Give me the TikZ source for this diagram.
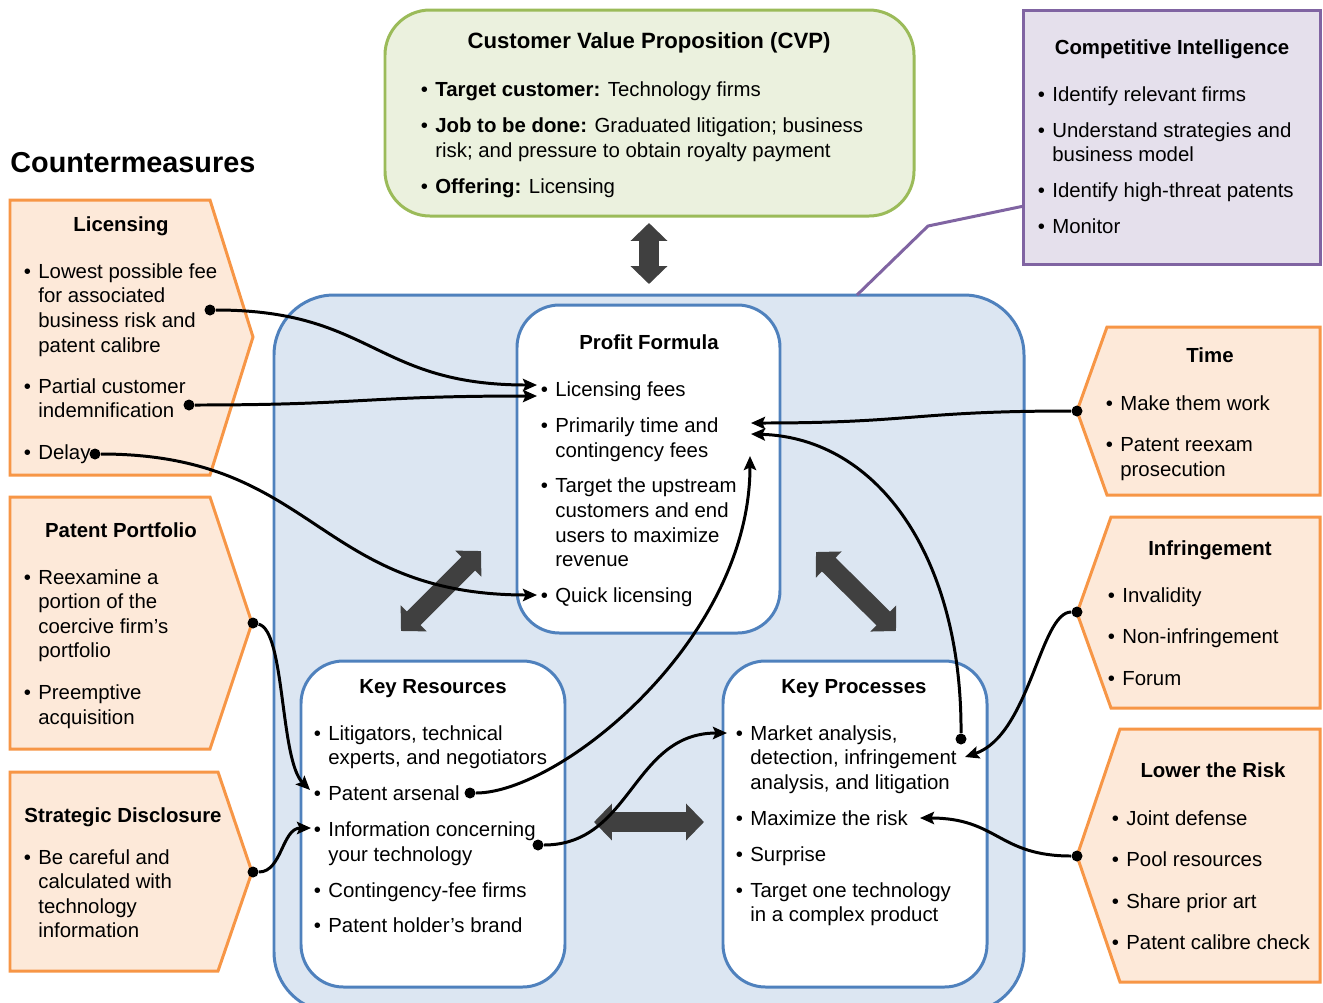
\documentclass[tikz,border=0pt]{standalone}
\usepackage{fontspec}
\setmainfont{Liberation Sans}
\usetikzlibrary{arrows.meta}

\definecolor{orFill}{HTML}{FDE9D9}
\definecolor{orLine}{HTML}{F79646}
\definecolor{blFill}{HTML}{DCE6F2}
\definecolor{blLine}{HTML}{4F81BD}
\definecolor{grFill}{HTML}{EBF1DE}
\definecolor{grLine}{HTML}{9BBB59}
\definecolor{puFill}{HTML}{E5E0EC}
\definecolor{puLine}{HTML}{8064A2}
\definecolor{blockGray}{HTML}{404040}

\newcounter{tx}
% plain text line, bulleted line, centred heading
\newcommand\TL[3]{\stepcounter{tx}\node[txt] (tx\arabic{tx}) at (#1,#2) {#3};}
\newcommand\BL[3]{\stepcounter{tx}\node[txt] (tx\arabic{tx}) at (#1,#2) {\llap{•\hspace{4.2pt}}#3};}
\newcommand\TT[3]{\stepcounter{tx}\node[ttl] (tx\arabic{tx}) at (#1,#2) {#3};}

\tikzset{
  txt/.style={font=\fontsize{11.6}{13.9}\selectfont, inner sep=0pt, anchor=mid west, yshift=-0.06cm},
  ttl/.style={font=\fontsize{11.6}{13.9}\selectfont\bfseries, inner sep=0pt, anchor=mid, yshift=-0.06cm},
  orbox/.style={fill=orFill, draw=orLine, line width=1.7pt, line join=miter},
  blbox/.style={fill=white, draw=blLine, line width=1.7pt, rounded corners=0.85cm},
  dot/.style={circle, fill=black, inner sep=0pt, minimum size=0.22cm},
  conn/.style={line width=1.7pt, -{Stealth[length=8pt, width=7pt, inset=1.5pt]}},
  blockarrow/.style={blockGray, line width=11pt,
     {Triangle[length=10.2pt, width=20.4pt]}-{Triangle[length=10.2pt, width=20.4pt]}},
}

\begin{document}
\begin{tikzpicture}[x=0.02cm, y=-0.02cm]
\clip (0,0) rectangle (1323,1002);
\fill[white] (0,0) rectangle (1323,1002);

% ---------- business model frame ----------
\draw[fill=blFill, draw=blLine, line width=1.7pt, rounded corners=1.2cm] (274,295) rectangle (1024,1012);
\draw[blbox] (517,305) rectangle (780,633);
\draw[blbox] (301,661) rectangle (565,987);
\draw[blbox] (723,661) rectangle (987,987);

% ---------- customer value proposition ----------
\draw[fill=grFill, draw=grLine, line width=1.7pt, rounded corners=0.9cm] (385,10) rectangle (914,216);

% ---------- competitive intelligence callout ----------
\draw[puLine, line width=1.7pt, line join=round] (857,295) -- (928,226) -- (1024,206);
\draw[fill=puFill, draw=puLine, line width=1.7pt] (1023,10) rectangle (1320,264);

% ---------- countermeasure pentagons ----------
\draw[orbox] (10,200) -- (210,200) -- (253,337) -- (210,475) -- (10,475) -- cycle;
\draw[orbox] (10,497) -- (210,497) -- (252,623) -- (210,749) -- (10,749) -- cycle;
\draw[orbox] (10,772) -- (218,772) -- (252,872) -- (218,971) -- (10,971) -- cycle;
\draw[orbox] (1107,327) -- (1320,327) -- (1320,495) -- (1107,495) -- (1077,411) -- cycle;
\draw[orbox] (1111,517) -- (1320,517) -- (1320,708) -- (1111,708) -- (1077,613) -- cycle;
\draw[orbox] (1120,729) -- (1320,729) -- (1320,982) -- (1120,982) -- (1077,856) -- cycle;

% ---------- block arrows between model parts ----------
\coordinate (vA) at (649,223);  \coordinate (vB) at (649,284);
\coordinate (dA) at (401,631);  \coordinate (dB) at (481,551);
\coordinate (eA) at (816,552);  \coordinate (eB) at (896,631);
\coordinate (hA) at (594,822);  \coordinate (hB) at (704,822);
\draw[blockarrow] (vA) -- (vB);
\draw[blockarrow] (dA) -- (dB);
\draw[blockarrow] (eA) -- (eB);
\draw[blockarrow] (hA) -- (hB);

% ---------- texts ----------
\node[font=\fontsize{16.4}{19}\selectfont\bfseries, inner sep=0pt, anchor=mid west, yshift=-0.11cm] (cm) at (10,162) {Countermeasures};

\node[font=\fontsize{12.6}{15}\selectfont\bfseries, inner sep=0pt, anchor=mid, yshift=-0.06cm] (cvpT) at (649,41) {Customer Value Proposition (CVP)};
\BL{435}{89}{\textbf{Target customer:} Technology firms}
\BL{435}{125}{\textbf{Job to be done:} Graduated litigation; business}
\TL{435}{150}{risk; and pressure to obtain royalty payment}
\BL{435}{186}{\textbf{Offering:} Licensing}

\TT{1172}{47}{Competitive Intelligence}
\BL{1052}{94}{Identify relevant firms}
\BL{1052}{130}{Understand strategies and}
\TL{1052}{154}{business model}
\BL{1052}{190}{Identify high-threat patents}
\BL{1052}{226}{Monitor}

\TT{649}{342}{Profit Formula}
\BL{555}{389}{Licensing fees}
\BL{555}{425}{Primarily time and}
\TL{555}{450}{contingency fees}
\BL{555}{485}{Target the upstream}
\TL{555}{510}{customers and end}
\TL{555}{535}{users to maximize}
\TL{555}{559}{revenue}
\BL{555}{595}{Quick licensing}

\TT{433}{686}{Key Resources}
\BL{328}{733}{Litigators, technical}
\TL{328}{757}{experts, and negotiators}
\BL{328}{793}{Patent arsenal}
\BL{328}{829}{Information concerning}
\TL{328}{854}{your technology}
\BL{328}{890}{Contingency-fee firms}
\BL{328}{925}{Patent holder’s brand}

\TT{854}{686}{Key Processes}
\BL{750}{733}{Market analysis,}
\TL{750}{757}{detection, infringement}
\TL{750}{782}{analysis, and litigation}
\BL{750}{818}{Maximize the risk}
\BL{750}{854}{Surprise}
\BL{750}{890}{Target one technology}
\TL{750}{914}{in a complex product}

\TT{121}{224}{Licensing}
\BL{38}{271}{Lowest possible fee}
\TL{38}{295}{for associated}
\TL{38}{320}{business risk and}
\TL{38}{345}{patent calibre}
\BL{38}{386}{Partial customer}
\TL{38}{410}{indemnification}
\BL{38}{452}{Delay}

\TT{121}{530}{Patent Portfolio}
\BL{38}{577}{Reexamine a}
\TL{38}{601}{portion of the}
\TL{38}{626}{coercive firm’s}
\TL{38}{650}{portfolio}
\BL{38}{692}{Preemptive}
\TL{38}{717}{acquisition}

\TT{123}{815}{Strategic Disclosure}
\BL{38}{857}{Be careful and}
\TL{38}{881}{calculated with}
\TL{38}{906}{technology}
\TL{38}{930}{information}

\TT{1210}{355}{Time}
\BL{1120}{403}{Make them work}
\BL{1120}{444}{Patent reexam}
\TL{1120}{469}{prosecution}

\TT{1210}{548}{Infringement}
\BL{1122}{595}{Invalidity}
\BL{1122}{636}{Non-infringement}
\BL{1122}{678}{Forum}

\TT{1213}{770}{Lower the Risk}
\BL{1126}{818}{Joint defense}
\BL{1126}{859}{Pool resources}
\BL{1126}{901}{Share prior art}
\BL{1126}{942}{Patent calibre check}

% ---------- connector start points ----------
\node[dot] (dLic)   at (210,310) {};
\node[dot] (dInd)   at (189,405) {};
\node[dot] (dDelay) at (95,454) {};
\node[dot] (dPP)    at (253,623) {};
\node[dot] (dSD)    at (253,872) {};
\node[dot] (dTime)  at (1077,411) {};
\node[dot] (dInf)   at (1077,612) {};
\node[dot] (dLow)   at (1077,856) {};
\node[dot] (dArs)   at (470,793) {};
\node[dot] (dInfo)  at (538,845) {};
\node[dot] (dMkt)   at (961,739) {};

% ---------- connector end points ----------
\coordinate (tLicA)  at (537,385);
\coordinate (tLicB)  at (537,396);
\coordinate (tQuick) at (537,595);
\coordinate (tTimeA) at (751,423);
\coordinate (tTimeB) at (751,434);
\coordinate (tUp)    at (750,456);
\coordinate (tArs)   at (310,790);
\coordinate (tInfo)  at (311,828);
\coordinate (tMkt)   at (727,733);
\coordinate (tDet)   at (965,757);
\coordinate (tMax)   at (920,818);

% ---------- connectors ----------
\draw[conn] (dLic) .. controls (373,310) and (374,385) .. (tLicA);
\draw[conn] (dInd) .. controls (363,405) and (363,396) .. (tLicB);
\draw[conn] (dDelay) .. controls (316,454) and (316,595) .. (tQuick);
\draw[conn] (dTime) .. controls (914,411) and (914,423) .. (tTimeA);
\draw[conn] (dMkt) .. controls (962,560) and (880,438) .. (tTimeB);
\draw[conn] (dInf) .. controls (1040,612) and (1030,735) .. (tDet);
\draw[conn] (dLow) .. controls (998,856) and (998,818) .. (tMax);
\draw[conn] (dArs) .. controls (560,793) and (750,640) .. (tUp);
\draw[conn] (dPP) .. controls (285,630) and (280,760) .. (tArs);
\draw[conn] (dSD) .. controls (282,872) and (282,828) .. (tInfo);
\draw[conn] (dInfo) .. controls (632,845) and (632,733) .. (tMkt);
\end{tikzpicture}
\end{document}
